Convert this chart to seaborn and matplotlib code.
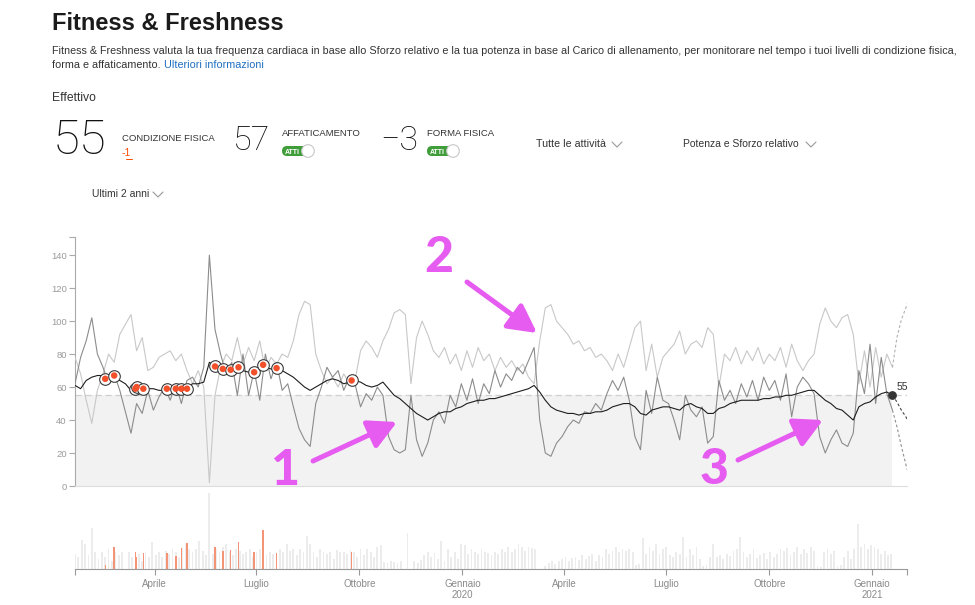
import numpy as np
import pandas as pd
import seaborn as sns
import matplotlib.pyplot as plt
from matplotlib.patches import FancyBboxPatch, Circle
from matplotlib.lines import Line2D
from matplotlib.transforms import IdentityTransform

# Fitness & Freshness (Strava) - ultimi 2 anni

W, H = 975, 605

# ---- data ----
start = "2019-01-20"          # one value every 5 days
end_axis = "2021-02-01"

fitness = [61, 59, 64, 66, 67, 67, 66, 65, 64, 62,
           58, 57, 59, 59, 59, 58, 58, 58, 59, 59,
           60, 62, 62, 63, 75, 73, 72, 71, 71, 71,
           70, 69, 69, 71, 72, 71, 70, 70, 68, 66,
           63, 60, 58, 60, 62, 64, 65, 64, 62, 63,
           64, 63, 61, 60, 61, 63, 59, 55, 53, 50,
           47, 44, 42, 40, 42, 44, 45, 45, 47, 48,
           50, 51, 52, 52, 53, 53, 54, 55, 56, 57,
           58, 59, 61, 57, 52, 48, 46, 45, 44, 44,
           43, 44, 44, 45, 45, 46, 48, 49, 50, 50,
           48, 44, 43, 46, 47, 48, 48, 47, 46, 49,
           50, 48, 47, 44, 44, 47, 48, 50, 51, 52,
           52, 52, 52, 53, 53, 54, 54, 55, 55, 56,
           57, 58, 58, 55, 52, 50, 47, 46, 43, 40,
           48, 50, 51, 54, 56, 57, 55]

fatigue = [62, 78, 88, 102, 80, 72, 62, 68, 58, 45,
           32, 50, 44, 58, 46, 54, 60, 52, 62, 50,
           64, 66, 60, 72, 140, 95, 80, 68, 75, 55,
           80, 55, 70, 52, 80, 65, 75, 58, 62, 48,
           35, 28, 24, 50, 60, 72, 66, 70, 58, 66,
           62, 48, 56, 52, 60, 55, 30, 22, 20, 22,
           55, 28, 18, 26, 40, 45, 38, 55, 48, 62,
           52, 65, 50, 62, 56, 70, 60, 68, 64, 72,
           68, 76, 84, 40, 20, 18, 26, 30, 36, 40,
           38, 45, 44, 50, 46, 56, 64, 58, 66, 52,
           30, 22, 58, 44, 66, 52, 50, 40, 28, 55,
           46, 42, 48, 26, 30, 64, 52, 58, 50, 62,
           54, 64, 52, 66, 58, 64, 52, 68, 42, 60,
           66, 62, 56, 30, 20, 28, 34, 26, 24, 32,
           70, 56, 86, 50, 78, 56, 46]

form = [78, 68, 52, 38, 58, 68, 80, 75, 92, 98,
        104, 82, 90, 70, 72, 78, 80, 82, 76, 80,
        70, 62, 70, 60, 2, 55, 72, 80, 76, 90,
        74, 84, 76, 88, 70, 78, 74, 80, 78, 88,
        104, 112, 110, 80, 70, 62, 66, 60, 68, 62,
        64, 82, 88, 84, 78, 88, 95, 105, 107, 104,
        62, 90, 100, 92, 82, 78, 84, 74, 80, 70,
        82, 72, 84, 76, 80, 70, 78, 72, 76, 70,
        74, 66, 62, 88, 108, 110, 100, 96, 92, 86,
        88, 82, 84, 78, 80, 76, 70, 80, 72, 84,
        96, 100, 70, 86, 66, 78, 82, 86, 94, 80,
        86, 88, 84, 96, 92, 60, 80, 76, 84, 74,
        82, 76, 84, 74, 80, 76, 84, 72, 86, 76,
        70, 76, 80, 98, 108, 100, 96, 102, 104, 92,
        62, 82, 60, 84, 66, 80, 72]

current_fitness = 55

# projections after the last day (days after last value)
proj_days = [0, 4, 8, 12, 14]
fitness_proj = [55, 51, 46, 42, 39]
fatigue_proj = [46, 36, 24, 13, 8]
form_proj = [72, 90, 101, 108, 112]

# key activities (days from start), fitness value and relative effort
key_days = [27, 35, 54, 55, 61, 82, 90, 95, 100, 125, 132, 139, 146, 160, 168, 180, 247]
key_fitness = [65, 67, 59, 60, 59, 59, 59, 59, 59, 72.5, 71, 70.5, 72, 69, 73.5, 71.5, 64]
key_effort = [4, 22, 17, 12, 16, 16, 13, 21, 26, 22, 18, 19, 27, 17, 39, 16, 17]

# daily effort bars, one every 3 days
effort = [15, 12, 29, 25, 14, 41, 17, 10, 17, 12,
          20, 8, 17, 14, 17, 0, 17, 12, 10, 15,
          8, 17, 12, 27, 14, 17, 12, 18, 15, 20,
          17, 12, 22, 25, 20, 17, 20, 28, 18, 14,
          76, 15, 20, 17, 22, 25, 17, 14, 20, 18,
          15, 17, 20, 12, 17, 20, 16, 14, 17, 15,
          15, 20, 17, 25, 18, 20, 14, 20, 17, 33,
          25, 17, 12, 20, 17, 15, 17, 10, 19, 17,
          17, 15, 19, 17, 12, 20, 14, 20, 17, 12,
          22, 24, 7, 6, 8, 7, 6, 8, 0, 36,
          0, 8, 6, 9, 14, 17, 12, 16, 10, 28,
          8, 20, 12, 17, 10, 25, 24, 15, 20, 17,
          15, 20, 17, 16, 14, 17, 15, 20, 17, 22,
          17, 20, 25, 22, 18, 22, 21, 20, 0, 0,
          3, 6, 8, 5, 8, 10, 12, 8, 11, 12,
          9, 14, 10, 13, 15, 8, 14, 12, 20, 15,
          18, 22, 17, 20, 18, 20, 17, 4, 5, 31,
          15, 22, 18, 25, 15, 20, 22, 14, 12, 17,
          15, 32, 12, 20, 14, 22, 10, 3, 4, 12,
          25, 12, 14, 10, 15, 13, 18, 20, 32, 17,
          12, 15, 20, 11, 14, 16, 10, 17, 12, 15,
          20, 18, 21, 14, 17, 22, 15, 20, 16, 22,
          18, 3, 2, 17, 20, 15, 18, 3, 4, 12,
          18, 10, 20, 45, 22, 25, 20, 24, 22, 20,
          15, 18, 14, 15]

month_ticks = ["2019-04-01", "2019-07-01", "2019-10-01", "2020-01-01",
               "2020-04-01", "2020-07-01", "2020-10-01", "2021-01-01"]
month_labels = ["Aprile", "Luglio", "Ottobre", "Gennaio\n2020",
                "Aprile", "Luglio", "Ottobre", "Gennaio\n2021"]

# ---- tables ----
t0 = pd.Timestamp(start)
dates = pd.date_range(start, periods=len(fitness), freq="5D")
lines = pd.DataFrame({"date": dates, "Forma fisica": form,
                      "Affaticamento": fatigue, "Condizione fisica": fitness})
long = lines.melt(id_vars="date", var_name="serie", value_name="valore")

last = dates[-1]
proj = pd.DataFrame({"date": last + pd.to_timedelta(proj_days, unit="D"),
                     "Forma fisica": form_proj, "Affaticamento": fatigue_proj,
                     "Condizione fisica": fitness_proj})
proj_long = proj.melt(id_vars="date", var_name="serie", value_name="valore")

keys = pd.DataFrame({"date": t0 + pd.to_timedelta(key_days, unit="D"),
                     "fit": key_fitness, "effort": key_effort})
bars = pd.DataFrame({"date": pd.date_range(start, periods=len(effort), freq="3D"),
                     "effort": effort})

# ---- figure ----
sns.set_theme(style="white")
plt.rcParams["font.family"] = ["Liberation Sans", "DejaVu Sans"]

fig = plt.figure(figsize=(W / 100, H / 100), dpi=100)
ax = fig.add_axes([75 / W, (H - 486) / H, 832 / W, 249 / H])
ax2 = fig.add_axes([75 / W, (H - 569) / H, 832 / W, 77 / H])

pal = {"Forma fisica": "#c8c8c8", "Affaticamento": "#8c8c8c", "Condizione fisica": "#1e1e1e"}
order = ["Forma fisica", "Affaticamento", "Condizione fisica"]

ax.fill_between([dates[0], last], 0, current_fitness, color="#f2f2f2", lw=0, zorder=0)
ax.axhline(current_fitness, color="#cfcfcf", lw=0.9, dashes=(5, 3), zorder=1)
sns.lineplot(data=long, x="date", y="valore", hue="serie", hue_order=order,
             palette=pal, linewidth=0.8, legend=False, ax=ax, zorder=3)
sns.lineplot(data=proj_long, x="date", y="valore", hue="serie", hue_order=order,
             palette={"Forma fisica": "#b0b0b0", "Affaticamento": "#909090",
                      "Condizione fisica": "#444444"},
             linewidth=0.8, dashes=False, legend=False, ax=ax, zorder=3)
for l in ax.lines[-3:]:
    l.set_dashes((2.5, 2))

sns.scatterplot(data=keys, x="date", y="fit", s=70, color="white",
                edgecolor="#3a3a3a", linewidth=0.8, ax=ax, zorder=5)
sns.scatterplot(data=keys, x="date", y="fit", s=22, color="#f1502a",
                edgecolor="none", ax=ax, zorder=6)
ax.scatter([last], [current_fitness], s=28, color="#333333", zorder=6)
ax.annotate(str(current_fitness), (last, current_fitness), xytext=(3, 4),
            textcoords="offset points", fontsize=7.5, color="#333333")

xlim = (t0, pd.Timestamp(end_axis))
ax.set_xlim(xlim)
ax.set_ylim(0, 151)
ax.set_yticks([0, 20, 40, 60, 80, 100, 120, 140, 151])
ax.set_yticklabels(["0", "20", "40", "60", "80", "100", "120", "140", ""])
ax.set_xticks([])
ax.set_xlabel("")
ax.set_ylabel("")
for s in ["top", "right"]:
    ax.spines[s].set_visible(False)
ax.spines["left"].set_color("#aaaaaa")
ax.spines["left"].set_linewidth(0.8)
ax.spines["bottom"].set_color("#dddddd")
ax.spines["bottom"].set_linewidth(0.8)
ax.tick_params(axis="y", length=4, width=0.8, color="#aaaaaa", labelsize=6.8,
               labelcolor="#9a9a9a", pad=2, left=True)

# effort bars
ax2.bar(bars["date"], bars["effort"], width=1.6, color="#ececec", lw=0)
ax2.bar(keys["date"], keys["effort"], width=1.3, color="#f59377", lw=0)
ax2.set_xlim(xlim)
ax2.set_ylim(0, 77)
ax2.set_yticks([])
ticks = [xlim[0]] + [pd.Timestamp(d) for d in month_ticks] + [xlim[1]]
ax2.set_xticks(ticks)
ax2.set_xticklabels([""] + month_labels + [""])
for s in ["top", "right", "left"]:
    ax2.spines[s].set_visible(False)
ax2.spines["bottom"].set_color("#999999")
ax2.spines["bottom"].set_linewidth(0.8)
ax2.tick_params(axis="x", length=4, width=0.8, color="#999999", labelsize=7,
                labelcolor="#8a8a8a", pad=3, bottom=True)
ax2.set_facecolor("none")


# ---- page texts (pixel positions, top-left origin) ----
def put(x, y, s, **kw):
    return fig.text(x / W, 1 - y / H, s, va="baseline", **kw)


put(52, 30, "Fitness & Freshness", fontsize=17, fontweight="bold", color="#1b1b1b")
put(52, 54, "Fitness & Freshness valuta la tua frequenza cardiaca in base allo Sforzo relativo "
    "e la tua potenza in base al Carico di allenamento, per monitorare nel tempo i tuoi "
    "livelli di condizione fisica,", fontsize=7.75, color="#333333")
t = put(52, 68, "forma e affaticamento. ", fontsize=7.75, color="#333333")
fig.canvas.draw()
bb = t.get_window_extent()
put(bb.x1, 68, "Ulteriori informazioni", fontsize=7.75, color="#1f6fc1")

put(52, 101, "Effettivo", fontsize=8.7, color="#333333")
put(53, 154, "55", fontsize=35.5, family="Roboto", fontweight="light", color="#111111")
put(122, 141, "CONDIZIONE FISICA", fontsize=6.8, color="#333333")
put(122, 156, "-1", fontsize=7.5, color="#fc4c02")
put(233, 150, "57", fontsize=24.5, family="Roboto", fontweight="light", color="#111111")
put(282, 136, "AFFATICAMENTO", fontsize=6.8, color="#333333")
put(380, 150, "\u22123", fontsize=24.5, family="Roboto", fontweight="light", color="#111111")
put(427, 136, "FORMA FISICA", fontsize=6.8, color="#333333")
put(536, 147, "Tutte le attività", fontsize=7.7, color="#333333")
put(683, 147, "Potenza e Sforzo relativo", fontsize=7.5, color="#333333")
put(92, 197, "Ultimi 2 anni", fontsize=7.5, color="#333333")

pix = IdentityTransform()
fig.add_artist(Line2D([126, 132], [H - 158.5, H - 158.5], color="#fc4c02", lw=0.7, transform=pix))
for x0, y0 in [(612, 142), (806, 142), (153, 192)]:
    fig.add_artist(Line2D([x0, x0 + 5, x0 + 10], [H - y0, H - y0 - 5, H - y0],
                          color="#9a9a9a", lw=0.8, transform=pix))
for x0 in [282, 427]:
    fig.add_artist(FancyBboxPatch((x0, H - 156), 26, 10, boxstyle="round,pad=0,rounding_size=5",
                                  fc="#3f9e3a", ec="none", transform=pix))
    put(x0 + 3, 154, "ATTI", fontsize=5, fontweight="bold", color="white")
    fig.add_artist(Circle((x0 + 26, H - 151), 6.3, fc="white", ec="#c8c8c8", lw=0.8,
                          transform=pix))

# magenta annotations
mag = "#e65cf0"
for txt, x, y, a, b in [("1", 286, 485, (313, 461), (397, 422)),
                        ("2", 439, 272, (467, 282), (537, 333)),
                        ("3", 714, 484, (738, 460), (823, 420))]:
    put(x, y, txt, fontsize=36, fontweight="black", family=["Lato", "DejaVu Sans"],
        color=mag, ha="center")
    ax.annotate("", xy=(b[0], H - b[1]), xycoords="figure pixels",
                xytext=(a[0], H - a[1]), textcoords="figure pixels",
                arrowprops=dict(arrowstyle="-|>,head_length=0.85,head_width=0.45",
                                mutation_scale=20, lw=3.6, color=mag,
                                shrinkA=0, shrinkB=0))

fig.savefig("out.png", dpi=100)
